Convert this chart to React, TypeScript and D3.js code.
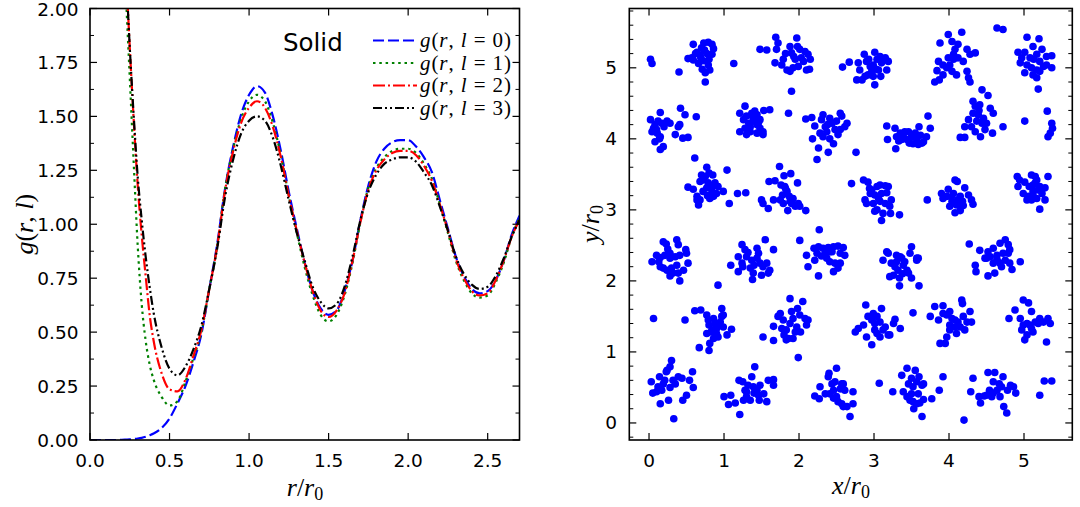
import React from "react";
import * as d3 from "d3";

// ---------- Left panel: g(r, l) ----------
const R = [0, 0.05, 0.1, 0.15, 0.2, 0.225, 0.25, 0.275, 0.3, 0.325, 0.35, 0.375, 0.4,
  0.45, 0.5, 0.55, 0.6, 0.65, 0.7, 0.75, 0.8, 0.85, 0.9, 0.95, 1.0, 1.05, 1.1, 1.15, 1.2,
  1.25, 1.3, 1.35, 1.4, 1.45, 1.5, 1.55, 1.6, 1.65, 1.7, 1.75, 1.8, 1.85, 1.9, 1.95, 2.0,
  2.05, 2.1, 2.15, 2.2, 2.25, 2.3, 2.35, 2.4, 2.45, 2.5, 2.55, 2.6, 2.65, 2.7];

const G0 = [0, 0, 0, 0, 0.001, 0.002, 0.003, 0.005, 0.007, 0.01, 0.015, 0.022, 0.03,
  0.055, 0.10, 0.17, 0.25, 0.36, 0.49, 0.70, 0.91, 1.17, 1.36, 1.51, 1.60, 1.64, 1.61, 1.50, 1.34,
  1.15, 0.98, 0.82, 0.69, 0.61, 0.58, 0.60, 0.69, 0.83, 1.02, 1.18, 1.29, 1.35, 1.38, 1.39, 1.39,
  1.36, 1.31, 1.24, 1.11, 0.98, 0.85, 0.76, 0.70, 0.68, 0.69, 0.74, 0.83, 0.95, 1.04];

const G1 = [null, null, null, null, 2.55, 2.08, 1.68, 1.28, 0.90, 0.63, 0.46, 0.35, 0.28,
  0.20, 0.16, 0.18, 0.27, 0.38, 0.50, 0.70, 0.90, 1.17, 1.35, 1.49, 1.57, 1.60, 1.57, 1.47, 1.32,
  1.13, 0.96, 0.80, 0.67, 0.58, 0.55, 0.58, 0.67, 0.82, 1.01, 1.17, 1.26, 1.31, 1.34, 1.35, 1.35,
  1.33, 1.28, 1.21, 1.09, 0.96, 0.83, 0.74, 0.68, 0.66, 0.67, 0.73, 0.82, 0.94, 1.03];

const G2 = [null, null, null, null, 2.6, 2.2, 1.82, 1.48, 1.18, 0.95, 0.76, 0.58, 0.46,
  0.31, 0.235, 0.225, 0.28, 0.39, 0.51, 0.70, 0.90, 1.16, 1.34, 1.47, 1.54, 1.57, 1.54, 1.45, 1.31,
  1.13, 0.97, 0.82, 0.69, 0.60, 0.57, 0.60, 0.68, 0.83, 1.01, 1.16, 1.25, 1.30, 1.33, 1.34, 1.34,
  1.32, 1.27, 1.20, 1.09, 0.97, 0.84, 0.75, 0.69, 0.67, 0.68, 0.74, 0.83, 0.94, 1.02];

const G3 = [null, null, null, null, 2.6, 2.2, 1.82, 1.5, 1.22, 1.02, 0.85, 0.71, 0.59,
  0.43, 0.33, 0.30, 0.34, 0.42, 0.53, 0.70, 0.89, 1.13, 1.30, 1.42, 1.48, 1.50, 1.48, 1.40, 1.27,
  1.11, 0.96, 0.83, 0.71, 0.64, 0.61, 0.63, 0.71, 0.85, 1.02, 1.15, 1.23, 1.28, 1.30, 1.31, 1.31,
  1.29, 1.24, 1.18, 1.08, 0.97, 0.85, 0.77, 0.72, 0.70, 0.71, 0.76, 0.84, 0.94, 1.02];

const seriesL = ["0", "1", "2", "3"];
const seriesColors = ["#0000ff", "#008000", "#ff0000", "#000000"];
const seriesDash = ["11,4", "2.5,3.8", "12,3,2,3", "9,3,2,3,2,3"];

const leftXTicks = [0, 0.5, 1.0, 1.5, 2.0, 2.5];
const leftYTicks = [0, 0.25, 0.5, 0.75, 1.0, 1.25, 1.5, 1.75, 2.0];
const leftYMinor = [0.125, 0.375, 0.625, 0.875, 1.125, 1.375, 1.625, 1.875];

// ---------- Right panel: particle positions (x/r0, y/r0) ----------
const particleXY: [number, number][] = [
  // row y~5
  [0.02,5.12],[0.04,5.06],
  [0.59,5.33],[0.73,5.35],[0.79,5.36],[0.84,5.33],[0.86,5.27],[0.70,5.28],[0.64,5.22],[0.57,5.14],[0.52,5.13],[0.68,5.18],[0.77,5.20],[0.84,5.19],[0.72,5.10],[0.66,5.06],[0.79,5.04],[0.59,5.11],[0.71,4.98],[0.75,4.93],[0.81,4.97],[0.40,4.94],[0.75,4.80],[0.62,5.20],[0.74,5.25],[0.80,5.12],[0.69,5.14],
  [1.13,5.06],
  [1.48,5.26],[1.57,5.25],[1.69,5.43],[1.72,5.35],[1.70,5.26],[1.68,5.07],[1.79,5.12],[1.88,5.30],[1.90,5.21],[1.97,5.42],[1.98,5.30],[2.01,5.26],[2.08,5.23],[2.12,5.19],[2.15,5.12],[2.06,5.09],[1.99,5.02],[1.92,5.00],[1.88,4.95],[1.84,4.97],[1.77,5.04],[1.95,5.12],[2.10,4.97],[2.14,4.98],[1.90,4.67],[1.86,4.36],[1.93,5.16],[1.82,5.20],[2.03,5.14],
  [2.58,5.01],[2.67,5.08],[2.79,5.07],[2.81,4.97],[2.87,5.19],[2.90,5.09],[2.95,5.02],[2.97,4.95],[3.01,5.22],[3.04,5.12],[3.08,5.16],[3.10,5.07],[3.15,5.14],[3.19,5.09],[3.17,4.97],[3.09,4.88],[3.01,4.76],[2.92,4.90],[2.84,4.83],[2.77,4.83],[2.88,4.88],[2.99,4.88],[3.06,4.97],[2.99,5.04],[2.93,5.12],[3.03,4.98],
  [3.88,5.35],[3.99,5.47],[4.04,5.37],[4.17,5.50],[4.12,5.33],[4.24,5.26],[4.35,5.21],[4.28,5.19],[4.08,5.26],[3.99,5.14],[4.06,5.12],[4.12,5.14],[4.19,5.09],[3.86,5.09],[3.84,4.96],[3.92,4.90],[3.81,4.80],[3.87,4.83],[3.97,5.00],[4.04,4.95],[4.10,4.90],[4.24,4.95],[4.26,4.86],[4.28,4.80],[4.01,5.04],[3.92,5.04],[4.06,5.19],
  [4.64,5.56],[4.72,5.54],
  [5.04,5.43],[5.20,5.41],[5.12,5.30],[4.92,5.22],[5.01,5.22],[5.08,5.14],[5.17,5.19],[5.24,5.26],[5.30,5.16],[5.37,5.17],[4.95,5.07],[5.04,5.04],[5.10,5.00],[5.21,5.09],[5.17,4.97],[5.30,5.04],[5.37,5.00],[5.01,4.93],[5.12,4.90],[5.17,4.86],[5.21,4.95],[5.19,4.70],[4.97,5.14],[5.26,5.02],[5.13,5.12],
  // row y~4.1
  [0.02,4.27],[0.15,4.37],[0.08,4.20],[0.12,4.25],[0.17,4.22],[0.24,4.25],[0.28,4.22],[0.04,4.10],[0.10,4.13],[0.15,4.03],[0.08,3.96],[0.19,3.89],[0.15,3.85],[0.35,4.06],[0.39,4.17],[0.41,4.20],[0.48,4.34],[0.42,4.43],[0.45,4.01],[0.52,4.02],[0.63,4.31],[0.61,3.73],[0.11,4.08],[0.20,4.17],[0.06,4.15],[0.14,4.00],
  [1.21,4.36],[1.28,4.46],[1.26,4.27],[1.30,4.32],[1.37,4.36],[1.41,4.39],[1.44,4.34],[1.48,4.27],[1.39,4.25],[1.44,4.20],[1.35,4.17],[1.48,4.15],[1.52,4.10],[1.52,4.06],[1.44,4.08],[1.30,4.06],[1.21,4.10],[1.35,4.10],[1.53,4.40],[1.61,4.41],[1.28,4.15],[1.39,4.29],[1.33,4.22],[1.46,4.23],
  [2.09,4.28],[2.17,4.30],[2.21,4.18],[2.32,4.34],[2.30,4.27],[2.35,4.17],[2.41,4.29],[2.44,4.22],[2.50,4.25],[2.55,4.36],[2.57,4.32],[2.64,4.22],[2.61,4.17],[2.37,4.10],[2.28,4.08],[2.32,4.03],[2.41,4.00],[2.46,3.93],[2.52,4.06],[2.48,4.13],[2.18,4.00],[2.26,3.87],[2.39,3.81],[2.24,3.71],[2.76,3.81],[2.55,4.13],[2.38,4.20],
  [3.17,4.18],[3.18,3.99],[3.28,4.15],[3.30,4.03],[3.29,3.86],[3.35,4.08],[3.39,4.06],[3.44,3.99],[3.46,4.10],[3.50,4.03],[3.55,4.08],[3.57,4.00],[3.60,4.17],[3.64,3.94],[3.66,3.96],[3.70,4.03],[3.75,4.15],[3.72,4.32],[3.52,3.93],[3.47,3.94],[3.37,3.99],[3.41,4.10],[3.59,3.92],[3.62,4.05],[3.33,3.97],
  [4.44,4.69],[4.52,4.61],[4.32,4.53],[4.35,4.46],[4.41,4.48],[4.55,4.43],[4.59,4.36],[4.32,4.36],[4.39,4.34],[4.46,4.29],[4.37,4.25],[4.44,4.22],[4.50,4.22],[4.30,4.17],[4.21,4.17],[4.15,4.02],[4.21,4.02],[4.35,4.10],[4.42,4.03],[4.48,4.13],[4.58,4.08],[4.72,4.17],[4.26,4.27],[4.40,4.40],
  [5.01,4.25],[5.31,4.39],[5.37,4.22],[5.38,4.15],[5.35,4.08],[5.32,4.03],
  // row y~3.3
  [0.77,3.60],[0.80,3.52],[0.70,3.49],[0.75,3.47],[0.85,3.49],[0.72,3.42],[0.68,3.40],[0.79,3.38],[0.88,3.38],[0.84,3.33],[0.77,3.31],[0.92,3.33],[0.99,3.26],[1.04,3.56],[0.52,3.32],[0.59,3.29],[0.64,3.19],[0.64,3.14],[0.68,3.14],[0.66,3.07],[0.81,3.16],[0.86,3.19],[0.90,3.23],[0.84,3.26],[1.07,3.09],[1.18,3.23],[1.29,3.24],[0.72,3.26],[0.78,3.20],
  [1.74,3.61],[1.80,3.48],[1.89,3.51],[1.60,3.40],[1.68,3.41],[1.76,3.35],[1.81,3.33],[1.84,3.26],[1.87,3.19],[1.92,3.16],[1.98,3.38],[1.99,3.09],[2.09,2.99],[2.01,3.05],[1.66,3.14],[1.50,3.14],[1.52,3.09],[1.59,3.02],[1.75,3.14],[1.79,3.09],[1.85,2.99],[1.90,3.09],[1.95,3.05],[1.78,3.21],[1.88,3.12],[1.82,3.30],
  [2.70,3.37],[2.86,3.42],[2.92,3.39],[2.97,3.28],[3.04,3.33],[3.08,3.35],[3.15,3.34],[3.19,3.33],[2.95,3.23],[3.01,3.21],[3.10,3.23],[3.17,3.24],[3.23,3.14],[2.88,3.14],[2.90,3.09],[2.99,3.09],[3.08,3.12],[3.15,3.09],[3.21,3.05],[3.04,3.00],[3.01,2.98],[3.12,2.95],[3.22,2.95],[3.10,2.85],[3.34,2.93],[3.06,3.16],[2.94,3.30],
  [3.71,3.14],[3.90,3.23],[3.92,3.16],[3.99,3.29],[4.08,3.42],[4.11,3.40],[4.06,3.23],[4.15,3.19],[4.21,3.31],[4.26,3.21],[4.30,3.14],[4.32,3.08],[4.04,3.12],[4.10,3.07],[4.19,3.06],[4.08,2.96],[4.15,2.99],[4.01,3.05],[3.97,3.19],[4.12,3.14],[4.03,3.18],[4.18,3.12],
  [4.91,3.47],[4.94,3.42],[5.01,3.39],[5.10,3.49],[5.15,3.47],[5.17,3.42],[5.07,3.33],[5.12,3.35],[5.21,3.33],[5.32,3.47],[4.92,3.33],[4.99,3.23],[5.06,3.19],[5.12,3.26],[5.19,3.28],[5.28,3.31],[5.04,3.14],[5.10,3.14],[5.17,3.16],[5.28,3.14],[5.21,3.01],[5.12,3.21],[5.24,3.23],[5.15,3.38],
  // row y~2.3
  [0.19,2.55],[0.23,2.52],[0.37,2.58],[0.39,2.51],[0.49,2.44],[0.10,2.36],[0.15,2.33],[0.28,2.39],[0.04,2.27],[0.13,2.27],[0.21,2.36],[0.28,2.32],[0.35,2.34],[0.41,2.36],[0.50,2.39],[0.19,2.18],[0.24,2.15],[0.30,2.18],[0.37,2.22],[0.32,2.11],[0.39,2.11],[0.28,2.07],[0.41,2.00],[0.46,2.15],[0.52,2.25],[0.15,2.20],[0.25,2.45],
  [0.92,1.94],
  [1.24,2.51],[1.28,2.44],[1.44,2.46],[1.55,2.58],[1.66,2.44],[1.19,2.34],[1.09,2.22],[1.19,2.13],[1.24,2.25],[1.30,2.34],[1.37,2.29],[1.44,2.32],[1.48,2.25],[1.52,2.20],[1.57,2.25],[1.61,2.15],[1.35,2.18],[1.39,2.11],[1.38,2.02],[1.50,2.08],[1.59,2.11],[1.25,2.20],[1.46,2.39],[1.32,2.40],[1.40,2.22],
  [2.27,2.72],[2.01,2.57],
  [2.10,2.36],[2.20,2.46],[2.26,2.48],[2.32,2.46],[2.39,2.47],[2.46,2.48],[2.52,2.49],[2.59,2.47],[2.44,2.41],[2.35,2.39],[2.24,2.39],[2.55,2.39],[2.21,2.29],[2.12,2.20],[2.26,2.07],[2.37,2.32],[2.41,2.27],[2.48,2.25],[2.55,2.25],[2.46,2.13],[2.52,2.18],[2.41,2.41],[2.61,2.36],[2.30,2.35],
  [3.19,2.39],[3.30,2.36],[3.48,2.39],[3.50,2.48],[3.37,2.32],[3.57,2.32],[3.12,2.29],[3.17,2.41],[3.23,2.25],[3.30,2.27],[3.35,2.34],[3.39,2.22],[3.44,2.15],[3.32,2.15],[3.26,2.08],[3.34,2.04],[3.34,1.93],[3.50,2.04],[3.46,2.11],[3.60,1.93],[3.57,2.29],[3.59,2.32],[3.21,2.06],[3.41,2.27],[3.28,2.20],[3.38,2.10],
  [4.41,2.43],[4.52,2.41],[4.59,2.46],[4.68,2.53],[4.75,2.58],[4.79,2.51],[4.81,2.44],[4.64,2.36],[4.72,2.39],[4.50,2.32],[4.35,2.22],[4.36,2.13],[4.52,2.07],[4.61,2.11],[4.59,2.25],[4.68,2.25],[4.75,2.29],[4.81,2.25],[4.84,2.16],[4.95,2.27],[4.55,2.34],[4.64,2.30],[4.79,2.39],[4.48,2.32],[4.70,2.20],[4.27,2.52],
  // row y~1.4
  [0.06,1.47],[0.48,1.45],
  [0.61,1.58],[0.69,1.59],[0.77,1.52],[0.79,1.45],[0.80,1.38],[0.77,1.26],[0.84,1.31],[0.90,1.33],[0.97,1.61],[0.99,1.52],[0.95,1.42],[0.88,1.40],[0.92,1.21],[0.86,1.19],[0.90,1.26],[0.99,1.35],[1.04,1.24],[1.10,1.32],[0.81,1.12],[0.80,1.02],[0.67,1.06],[0.97,1.50],[0.86,1.47],[0.93,1.37],[0.83,1.28],
  [1.52,1.21],[1.66,1.16],[1.66,1.36],[1.72,1.50],[1.77,1.33],[1.79,1.45],[1.83,1.31],[1.88,1.75],[1.90,1.57],[1.92,1.47],[1.98,1.61],[2.01,1.52],[2.05,1.71],[2.08,1.47],[2.12,1.45],[2.10,1.38],[2.02,1.28],[1.95,1.28],[1.86,1.19],[1.83,1.17],[1.92,1.19],[1.99,0.92],[1.75,1.54],[1.88,1.40],[1.97,1.35],[1.80,1.24],
  [2.75,1.28],[2.79,1.33],[2.86,1.38],[2.89,1.66],[2.92,1.50],[2.97,1.45],[2.99,1.54],[3.01,1.40],[3.08,1.42],[3.10,1.61],[3.12,1.31],[3.15,1.35],[3.19,1.24],[3.21,1.24],[3.28,1.46],[3.35,1.33],[3.26,1.40],[2.97,1.10],[2.90,1.21],[3.04,1.26],[3.08,1.21],[3.01,1.31],[3.04,1.50],
  [3.52,1.55],
  [3.75,1.50],[3.81,1.64],[3.86,1.45],[3.92,1.65],[3.92,1.54],[3.97,1.52],[4.01,1.57],[4.04,1.47],[4.08,1.45],[4.12,1.42],[4.17,1.73],[4.18,1.68],[4.19,1.50],[4.24,1.42],[4.28,1.57],[4.30,1.42],[4.21,1.31],[4.10,1.26],[4.01,1.31],[3.97,1.21],[3.95,1.12],[3.88,1.12],[4.01,1.38],[4.15,1.35],[4.08,1.35],
  [4.80,1.47],[4.88,1.59],[4.95,1.47],[4.99,1.73],[5.06,1.69],[5.10,1.57],[4.99,1.38],[4.97,1.31],[5.01,1.17],[5.04,1.24],[5.12,1.28],[5.08,1.38],[5.15,1.42],[5.21,1.47],[5.26,1.42],[5.32,1.47],[5.35,1.40],[5.30,1.14],[5.19,1.40],[5.04,1.40],[5.10,1.33],
  // row y~0.45
  [0.03,0.58],[0.05,0.42],[0.10,0.44],[0.14,0.65],[0.15,0.27],[0.19,0.55],[0.21,0.60],[0.24,0.74],[0.26,0.32],[0.28,0.79],[0.30,0.88],[0.32,0.60],[0.35,0.55],[0.39,0.65],[0.44,0.63],[0.45,0.32],[0.50,0.39],[0.54,0.60],[0.58,0.72],[0.59,0.50],[0.33,0.06],[0.23,0.72],[0.17,0.46],[0.12,0.51],[0.28,0.50],
  [1.00,0.37],[1.06,0.26],[1.09,0.39],[1.15,0.28],[1.20,0.60],[1.21,0.12],[1.25,0.58],[1.28,0.46],[1.30,0.37],[1.32,0.53],[1.37,0.65],[1.41,0.79],[1.39,0.51],[1.44,0.46],[1.48,0.53],[1.53,0.41],[1.57,0.30],[1.59,0.60],[1.66,0.61],[1.66,0.53],[1.26,0.32],[1.35,0.32],[1.47,0.32],[1.30,0.44],[1.46,0.39],[1.40,0.42],
  [2.21,0.38],[2.27,0.34],[2.28,0.51],[2.35,0.41],[2.39,0.65],[2.40,0.70],[2.44,0.55],[2.46,0.46],[2.50,0.77],[2.50,0.37],[2.55,0.48],[2.57,0.55],[2.59,0.55],[2.61,0.46],[2.57,0.27],[2.52,0.30],[2.59,0.23],[2.64,0.23],[2.68,0.09],[2.72,0.44],[2.72,0.27],[2.48,0.58],[2.41,0.41],[2.46,0.35],
  [3.07,0.56],
  [3.25,0.44],[3.37,0.67],[3.39,0.44],[3.44,0.77],[3.46,0.55],[3.50,0.63],[3.52,0.51],[3.55,0.74],[3.57,0.58],[3.60,0.65],[3.64,0.53],[3.66,0.55],[3.44,0.37],[3.48,0.32],[3.52,0.30],[3.57,0.27],[3.53,0.20],[3.61,0.28],[3.66,0.33],[3.64,0.09],[3.77,0.34],[3.87,0.46],[3.92,0.65],[3.50,0.41],[3.59,0.41],
  [4.20,0.04],[4.29,0.44],[4.32,0.63],[4.40,0.37],[4.42,0.28],[4.47,0.38],[4.52,0.71],[4.57,0.37],[4.59,0.58],[4.61,0.71],[4.64,0.46],[4.68,0.37],[4.70,0.51],[4.72,0.65],[4.73,0.23],[4.77,0.14],[4.78,0.46],[4.82,0.53],[4.86,0.51],[4.89,0.42],[4.50,0.39],[4.59,0.42],[4.67,0.55],[4.54,0.46],
  [5.21,0.39],[5.27,0.59],[5.37,0.59],
];

const rightXTicks = [0, 1, 2, 3, 4, 5];
const rightYTicks = [0, 1, 2, 3, 4, 5];
const rightYMinor = [-0.2, 0.2, 0.4, 0.6, 0.8, 1.2, 1.4, 1.6, 1.8, 2.2, 2.4, 2.6, 2.8, 3.2, 3.4, 3.6, 3.8, 4.2, 4.4, 4.6, 4.8, 5.2, 5.4, 5.6, 5.8];

const SANS = "DejaVu Sans, sans-serif";
const MATH = "Liberation Serif, DejaVu Serif, serif";

export default function App() {
  const W = 1080, H = 507;
  const top = 8.5, bottom = 440;

  // left scales
  const lx = d3.scaleLinear().domain([0, 2.7]).range([90, 519.5]);
  const ly = d3.scaleLinear().domain([0, 2]).range([bottom, top]);

  // right scales
  const rx = d3.scaleLinear().domain([-0.263, 5.644]).range([629.3, 1072.3]);
  const ry = d3.scaleLinear().domain([-0.24, 5.835]).range([bottom, top]);

  const allG = [G0, G1, G2, G3];
  const lineGen = (vals: (number | null)[]) =>
    d3.line<number>()
      .defined((_, i) => vals[i] !== null)
      .x((_, i) => lx(R[i]))
      .y((_, i) => ly(vals[i] as number))
      .curve(d3.curveMonotoneX)(R);

  const tickLen = 7, minorLen = 4;
  const fs = 18.5;

  const legendY = [40.5, 63, 85.5, 108];

  return (
    <svg width={W} height={H} style={{ display: "block", position: "absolute", left: 0, top: 0 }}>
      <defs>
        <clipPath id="clipL">
          <rect x={lx(0)} y={top} width={lx(2.7) - lx(0)} height={bottom - top} />
        </clipPath>
        <clipPath id="clipR">
          <rect x={629.3} y={top} width={1072.3 - 629.3} height={bottom - top} />
        </clipPath>
      </defs>
      <rect width={W} height={H} fill="#fff" />

      {/* ---------- Left panel ---------- */}
      <g clipPath="url(#clipL)">
        {allG.map((vals, k) => (
          <path key={k} d={lineGen(vals) || ""} fill="none" stroke={seriesColors[k]}
            strokeWidth={2.2} strokeDasharray={seriesDash[k]} />
        ))}
      </g>

      {/* left ticks */}
      {leftXTicks.map((t) => (
        <g key={"lxt" + t}>
          <line x1={lx(t)} x2={lx(t)} y1={bottom} y2={bottom - tickLen} stroke="#000" strokeWidth={1.2} />
          <line x1={lx(t)} x2={lx(t)} y1={top} y2={top + tickLen} stroke="#000" strokeWidth={1.2} />
          <text x={lx(t)} y={467} textAnchor="middle" fontFamily={SANS} fontSize={fs}>{t.toFixed(1)}</text>
        </g>
      ))}
      {leftYTicks.map((t) => (
        <g key={"lyt" + t}>
          <line x1={lx(0)} x2={lx(0) + tickLen} y1={ly(t)} y2={ly(t)} stroke="#000" strokeWidth={1.2} />
          <line x1={lx(2.7)} x2={lx(2.7) - tickLen} y1={ly(t)} y2={ly(t)} stroke="#000" strokeWidth={1.2} />
          <text x={78.5} y={Math.max(ly(t) + 6.5, 16)} textAnchor="end" fontFamily={SANS} fontSize={fs}>{t.toFixed(2)}</text>
        </g>
      ))}
      {leftYMinor.map((t) => (
        <g key={"lym" + t}>
          <line x1={lx(0)} x2={lx(0) + minorLen} y1={ly(t)} y2={ly(t)} stroke="#000" strokeWidth={1} />
          <line x1={lx(2.7)} x2={lx(2.7) - minorLen} y1={ly(t)} y2={ly(t)} stroke="#000" strokeWidth={1} />
        </g>
      ))}
      <rect x={lx(0)} y={top} width={lx(2.7) - lx(0)} height={bottom - top} fill="none" stroke="#000" strokeWidth={1.6} />

      {/* Solid label */}
      <text x={283} y={50.5} fontFamily={SANS} fontSize={24.5}>Solid</text>

      {/* legend */}
      {seriesL.map((l, k) => (
        <g key={"leg" + k}>
          <line x1={373} x2={417} y1={legendY[k]} y2={legendY[k]} stroke={seriesColors[k]}
            strokeWidth={2.2} strokeDasharray={seriesDash[k]} />
          <text x={420} y={legendY[k] + 6.5} fontFamily={MATH} fontSize={21}
            textLength={91} lengthAdjust="spacing">
            <tspan fontStyle="italic">g</tspan>(<tspan fontStyle="italic">r</tspan>, <tspan fontStyle="italic">l</tspan> = {l})
          </text>
        </g>
      ))}

      {/* left axis labels */}
      <text x={305} y={496} textAnchor="middle" fontFamily={MATH} fontSize={26}>
        <tspan fontStyle="italic">r</tspan>/<tspan fontStyle="italic">r</tspan><tspan fontSize={18} dy={4}>0</tspan>
      </text>
      <text transform={`translate(33, ${ly(1)}) rotate(-90)`} textAnchor="middle" fontFamily={MATH} fontSize={26}>
        <tspan fontStyle="italic">g</tspan>(<tspan fontStyle="italic">r</tspan>, <tspan fontStyle="italic">l</tspan>)
      </text>

      {/* ---------- Right panel ---------- */}
      <g clipPath="url(#clipR)">
        {particleXY.map((p, i) => (
          <circle key={i} cx={rx(p[0])} cy={ry(p[1])} r={3.8} fill="#0000ff" />
        ))}
      </g>
      {rightXTicks.map((t) => (
        <g key={"rxt" + t}>
          <line x1={rx(t)} x2={rx(t)} y1={bottom} y2={bottom - tickLen} stroke="#000" strokeWidth={1.2} />
          <line x1={rx(t)} x2={rx(t)} y1={top} y2={top + tickLen} stroke="#000" strokeWidth={1.2} />
          <text x={rx(t)} y={467} textAnchor="middle" fontFamily={SANS} fontSize={fs}>{t}</text>
        </g>
      ))}
      {rightYTicks.map((t) => (
        <g key={"ryt" + t}>
          <line x1={629.3} x2={629.3 + tickLen} y1={ry(t)} y2={ry(t)} stroke="#000" strokeWidth={1.2} />
          <line x1={1072.3} x2={1072.3 - tickLen} y1={ry(t)} y2={ry(t)} stroke="#000" strokeWidth={1.2} />
          <text x={617} y={ry(t) + 6.5} textAnchor="end" fontFamily={SANS} fontSize={fs}>{t}</text>
        </g>
      ))}
      {rightYMinor.map((t) => (
        <g key={"rym" + t}>
          <line x1={629.3} x2={629.3 + minorLen} y1={ry(t)} y2={ry(t)} stroke="#000" strokeWidth={1} />
          <line x1={1072.3} x2={1072.3 - minorLen} y1={ry(t)} y2={ry(t)} stroke="#000" strokeWidth={1} />
        </g>
      ))}
      <rect x={629.3} y={top} width={1072.3 - 629.3} height={bottom - top} fill="none" stroke="#000" strokeWidth={1.6} />

      <text x={851} y={494} textAnchor="middle" fontFamily={MATH} fontSize={26}>
        <tspan fontStyle="italic">x</tspan>/<tspan fontStyle="italic">r</tspan><tspan fontSize={18} dy={4}>0</tspan>
      </text>
      <text transform={`translate(599, ${ry(2.8)}) rotate(-90)`} textAnchor="middle" fontFamily={MATH} fontSize={26}>
        <tspan fontStyle="italic">y</tspan>/<tspan fontStyle="italic">r</tspan><tspan fontSize={18} dy={4}>0</tspan>
      </text>
    </svg>
  );
}
